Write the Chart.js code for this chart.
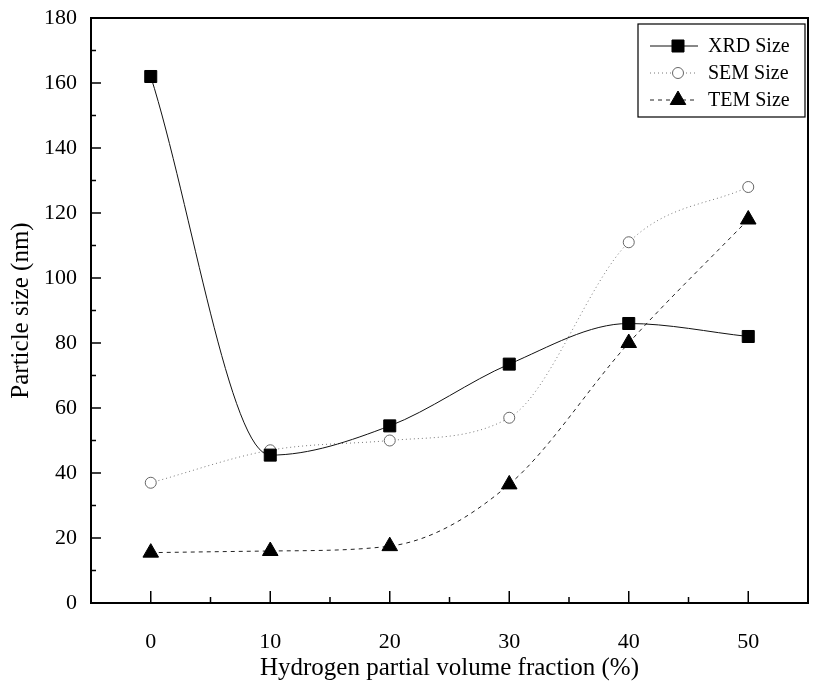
<!DOCTYPE html>
<html>
<head>
<meta charset="utf-8">
<script src="https://cdn.jsdelivr.net/npm/chart.js@4"></script>
<style>
  html, body { margin: 0; padding: 0; background: #fff; }
  #wrap { width: 824px; height: 691px; }
</style>
</head>
<body>
<div id="wrap"><canvas id="myChart"></canvas></div>
<script>
const ctx = document.getElementById("myChart");

// values
const fractions = [0, 10, 20, 30, 40, 50];
const xrdSize = [162, 45.5, 54.5, 73.5, 86, 82];
const semSize = [37, 47, 50, 57, 111, 128];
const temSize = [15.5, 16, 17.5, 36.5, 80, 118];

const xTicks = [0, 10, 20, 30, 40, 50];
const xMinor = [5, 15, 25, 35, 45];
const yTicks = [0, 20, 40, 60, 80, 100, 120, 140, 160, 180];
const yMinor = [10, 30, 50, 70, 90, 110, 130, 150, 170];

const FONT = "'Liberation Serif', 'Times New Roman', serif";

const toPoints = (ys) => fractions.map((x, i) => ({ x: x, y: ys[i] }));

// frame + inward ticks + boxed legend
const framePlugin = {
  id: "frame",
  afterDatasetsDraw(chart) {
    const c = chart.ctx;
    const a = chart.chartArea;
    const xs = chart.scales.x;
    const ys = chart.scales.y;
    c.save();
    c.strokeStyle = "#000";
    c.lineWidth = 2;
    c.strokeRect(a.left, a.top, a.right - a.left, a.bottom - a.top);

    c.lineWidth = 1.5;
    c.beginPath();
    xTicks.forEach((v) => {
      const p = xs.getPixelForValue(v);
      c.moveTo(p, a.bottom);
      c.lineTo(p, a.bottom - 12);
    });
    xMinor.forEach((v) => {
      const p = xs.getPixelForValue(v);
      c.moveTo(p, a.bottom);
      c.lineTo(p, a.bottom - 6);
    });
    yTicks.forEach((v) => {
      const p = ys.getPixelForValue(v);
      c.moveTo(a.left, p);
      c.lineTo(a.left + 10, p);
    });
    yMinor.forEach((v) => {
      const p = ys.getPixelForValue(v);
      c.moveTo(a.left, p);
      c.lineTo(a.left + 5, p);
    });
    c.stroke();

    // legend box
    const bx = a.right - 170, by = a.top + 6, bw = 167, bh = 93;
    c.lineWidth = 1.2;
    c.strokeRect(bx, by, bw, bh);
    c.font = "20px " + FONT;
    c.textBaseline = "middle";
    chart.data.datasets.forEach((ds, i) => {
      const yy = by + 22 + i * 27;
      c.save();
      c.strokeStyle = ds.borderColor;
      c.lineWidth = ds.borderWidth;
      c.setLineDash(ds.borderDash || []);
      c.beginPath();
      c.moveTo(bx + 12, yy);
      c.lineTo(bx + 60, yy);
      c.stroke();
      c.restore();
      c.save();
      c.fillStyle = ds.pointBackgroundColor;
      c.strokeStyle = ds.pointBorderColor;
      c.lineWidth = ds.pointBorderWidth;
      Chart.helpers.drawPoint(c, {
        pointStyle: ds.pointStyle,
        radius: ds.pointRadius,
        borderWidth: ds.pointBorderWidth,
        rotation: 0
      }, bx + 40, yy);
      c.restore();
      c.fillStyle = "#000";
      c.fillText(ds.label, bx + 70, yy + 1);
    });
    c.restore();
  }
};

Chart.register(framePlugin);

const myChart = new Chart(ctx, {
  type: "line",
  data: {
    datasets: [
      {
        label: "XRD Size",
        data: toPoints(xrdSize),
        borderColor: "#111",
        borderWidth: 1,
        pointStyle: "rect",
        pointRadius: 8.5,
        pointBorderWidth: 1,
        pointBackgroundColor: "#000",
        pointBorderColor: "#000",
        cubicInterpolationMode: "monotone",
      },
      {
        label: "SEM Size",
        data: toPoints(semSize),
        borderColor: "#777",
        borderWidth: 1,
        borderDash: [1, 3],
        pointStyle: "circle",
        pointRadius: 5.5,
        pointBorderWidth: 1,
        pointBackgroundColor: "#fff",
        pointBorderColor: "#666",
        cubicInterpolationMode: "monotone",
      },
      {
        label: "TEM Size",
        data: toPoints(temSize),
        borderColor: "#222",
        borderWidth: 1,
        borderDash: [4, 4],
        pointStyle: "triangle",
        pointRadius: 9,
        pointBorderWidth: 1,
        pointBackgroundColor: "#000",
        pointBorderColor: "#000",
        cubicInterpolationMode: "monotone",
      },
    ],
  },
  options: {
    responsive: true,
    maintainAspectRatio: false,
    animation: false,
    layout: { padding: { top: 18, right: 16, left: 0, bottom: 0 } },
    plugins: {
      legend: { display: false },
      tooltip: { enabled: false },
    },
    scales: {
      x: {
        type: "linear",
        min: -5,
        max: 55,
        afterBuildTicks: (scale) => {
          scale.ticks = xTicks.map((v) => ({ value: v }));
        },
        afterFit: (scale) => {
          scale.height = 88;
        },
        grid: { display: false, drawTicks: false },
        border: { display: false },
        ticks: {
          color: "#000",
          padding: 26,
          font: { family: FONT, size: 22 },
          maxRotation: 0,
        },
        title: {
          display: true,
          text: "Hydrogen partial volume fraction (%)",
          color: "#000",
          font: { family: FONT, size: 25 },
          padding: { top: 0, bottom: 8 },
        },
      },
      y: {
        type: "linear",
        min: 0,
        max: 180,
        afterBuildTicks: (scale) => {
          scale.ticks = yTicks.map((v) => ({ value: v }));
        },
        afterFit: (scale) => {
          scale.width = 91;
          scale.paddingTop = 0;
          scale.paddingBottom = 0;
        },
        grid: { display: false, drawTicks: false },
        border: { display: false },
        ticks: {
          color: "#000",
          padding: 14,
          font: { family: FONT, size: 22 },
        },
        title: {
          display: true,
          text: "Particle size (nm)",
          color: "#000",
          font: { family: FONT, size: 25 },
          padding: { top: 6, bottom: 0 },
        },
      },
    },
  },
});
</script>
</body>
</html>
